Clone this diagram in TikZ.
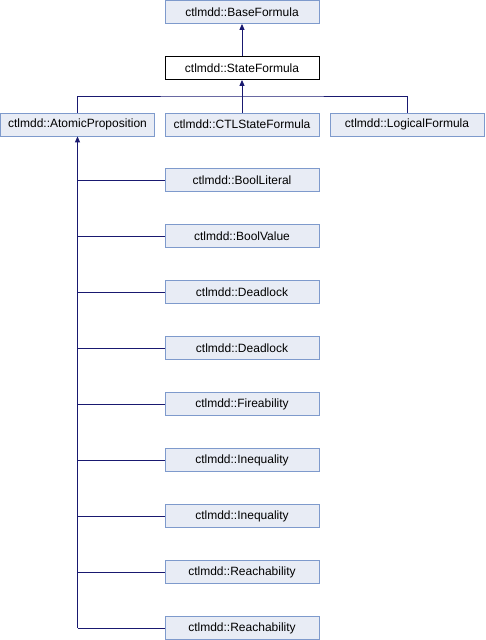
\documentclass[tikz,border=0pt]{standalone}
\usepackage{fontspec}
\setmainfont{Liberation Sans}
\usetikzlibrary{arrows.meta}
\definecolor{boxfill}{HTML}{E8ECF5}
\definecolor{boxline}{HTML}{7E9ACC}
\definecolor{edgecol}{HTML}{191970}
\begin{document}
\begin{tikzpicture}[x=1pt,y=-1pt,
  cls/.style={draw=boxline,fill=boxfill,line width=0.8pt,minimum width=154pt,minimum height=23pt,inner sep=0pt,font=\fontsize{12}{14}\selectfont},
  cur/.style={cls,draw=black,fill=white},
  inh/.style={draw=edgecol,line width=0.9pt,{Triangle[length=6pt,width=5pt]}-}]
\useasboundingbox (0,0) rectangle (485,640);
\node[cls] (base) at (242,12) {ctlmdd::BaseFormula};
\node[cur] (state) at (242,68) {ctlmdd::StateFormula};
\node[cls] (atomic) at (77.5,124.5) {ctlmdd::AtomicProposition};
\node[cls] (ctl) at (242,124.5) {ctlmdd::CTLStateFormula};
\node[cls] (logical) at (407,124.5) {ctlmdd::LogicalFormula};
\node[cls] (c1) at (242,180) {ctlmdd::BoolLiteral};
\node[cls] (c2) at (242,236) {ctlmdd::BoolValue};
\node[cls] (c3) at (242,292) {ctlmdd::Deadlock};
\node[cls] (c4) at (242,348) {ctlmdd::Deadlock};
\node[cls] (c5) at (242,404) {ctlmdd::Fireability};
\node[cls] (c6) at (242,460) {ctlmdd::Inequality};
\node[cls] (c7) at (242,516) {ctlmdd::Inequality};
\node[cls] (c8) at (242,572) {ctlmdd::Reachability};
\node[cls] (c9) at (242,628) {ctlmdd::Reachability};
\draw[inh] (base.south) -- (state.north);
\coordinate (j) at (242,96);
\draw[inh] (state.south) -- (j);
\draw[draw=edgecol,line width=0.9pt] (atomic.north) |- (j) -| (logical.north);
\draw[draw=edgecol,line width=0.9pt] (j) -- (ctl.north);
\coordinate (bot) at (77.5,628);
\draw[inh] (atomic.south) -- (bot);
\foreach \c in {c1,c2,c3,c4,c5,c6,c7,c8,c9}{
  \draw[draw=edgecol,line width=0.9pt] (atomic.south |- \c.west) -- (\c.west);
}
\end{tikzpicture}
\end{document}
